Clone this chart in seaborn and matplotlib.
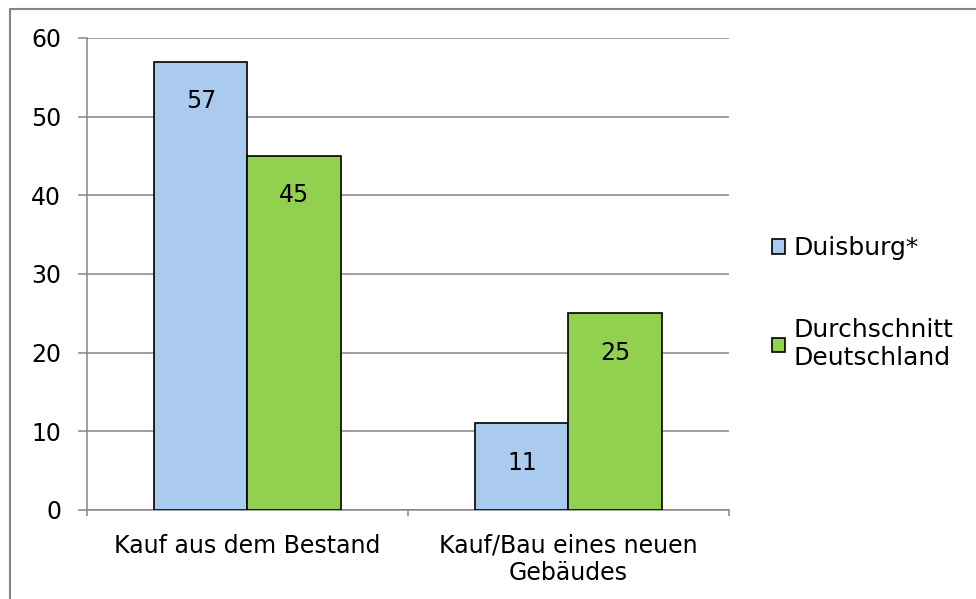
import pandas as pd
import seaborn as sns
import matplotlib.pyplot as plt
from matplotlib.lines import Line2D

# data
categories = ["Kauf aus dem Bestand", "Kauf/Bau eines neuen\nGebäudes"]
series = ["Duisburg*", "Durchschnitt\nDeutschland"]
duisburg = [57, 11]
deutschland = [45, 25]
colors = ["#AACBEE", "#92D050"]

df = pd.DataFrame({
    "kategorie": categories * 2,
    "wert": duisburg + deutschland,
    "reihe": [series[0]] * 2 + [series[1]] * 2,
})

sns.set_style("white")
plt.rcParams["font.family"] = ["DejaVu Sans"]
plt.rcParams["font.size"] = 17
plt.rcParams["text.color"] = "black"
plt.rcParams["xtick.labelcolor"] = "black"
plt.rcParams["ytick.labelcolor"] = "black"

GRAY = "#868686"

fig = plt.figure(figsize=(9.76, 5.99), dpi=100)
ax = fig.add_axes([0.0891, 0.1486, 0.6578, 0.788])

sns.barplot(data=df, x="kategorie", y="wert", hue="reihe", order=categories,
            hue_order=series, palette=colors, saturation=1, width=0.58,
            edgecolor="black", linewidth=1.2, ax=ax, zorder=3)

ax.set_ylim(0, 60)
ax.set_xlim(-0.5, 1.5)
ax.set_yticks(range(0, 61, 10))
ax.set_xlabel("")
ax.set_ylabel("")

# grid and spines
ax.yaxis.grid(True, color=GRAY, linewidth=1.1, zorder=0)
ax.set_axisbelow(True)
for side in ["top", "right"]:
    ax.spines[side].set_visible(False)
for side in ["left", "bottom"]:
    ax.spines[side].set_color(GRAY)
    ax.spines[side].set_linewidth(1.1)

ax.tick_params(axis="y", left=True, length=6.5, width=1.1, color=GRAY,
               pad=12, labelsize=17, labelcolor="black")

# category boundaries as ticks, labels in between
ax.set_xticks([-0.5, 0.5, 1.5])
ax.set_xticklabels(["", "", ""])
ax.tick_params(axis="x", which="major", bottom=True, length=4.5, width=1.1,
               color=GRAY)
ax.set_xticks([0, 1], minor=True)
ax.set_xticklabels(categories, minor=True, fontsize=17, color="black")
ax.tick_params(axis="x", which="minor", length=0, pad=17)

for cont in ax.containers:
    ax.bar_label(cont, padding=-37, fontsize=17, color="black")

handles = [plt.Rectangle((0, 0), 1, 1, facecolor=c, edgecolor="black", linewidth=1.2)
           for c in colors]
fig.legend(handles, series, loc="upper left", bbox_to_anchor=(0.781, 0.622),
           frameon=False, fontsize=18, handlelength=0.5, handleheight=0.5,
           handletextpad=0.35, labelspacing=2.32, borderaxespad=0)
if ax.get_legend():
    ax.get_legend().remove()

# outer frame, only left and top visible
fig.add_artist(Line2D([0.0105, 0.0105], [0, 0.985], color=GRAY, linewidth=1.5,
                      transform=fig.transFigure))
fig.add_artist(Line2D([0.0105, 1], [0.985, 0.985], color=GRAY, linewidth=1.5,
                      transform=fig.transFigure))

fig.savefig("out.png", dpi=100)
